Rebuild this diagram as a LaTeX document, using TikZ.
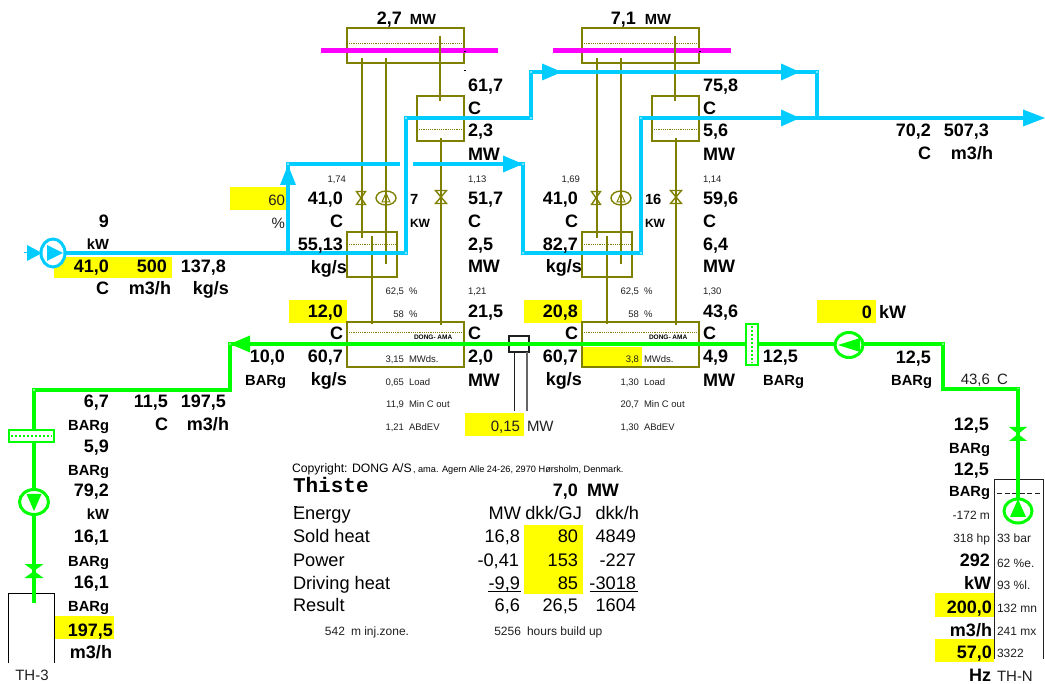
\documentclass[tikz,border=0pt]{standalone}
\usepackage{fontspec}
\setmainfont{Liberation Sans}
\newfontfamily\cour{Liberation Mono}
\usetikzlibrary{shapes.geometric}
\definecolor{cblue}{HTML}{00CCFF}
\definecolor{cgreen}{HTML}{00FF00}
\definecolor{colv}{HTML}{808000}
\definecolor{cyel}{HTML}{FFFF00}
\definecolor{cmag}{HTML}{FF00FF}
\definecolor{cgray}{HTML}{202020}
\newcounter{tx}
\tikzset{
  txt/.style={inner sep=0pt,outer sep=0pt},
  big/.style={txt,font=\fontsize{18}{18}\selectfont\bfseries},
  sb/.style={txt,font=\fontsize{14.7}{14.7}\selectfont\bfseries},
  kwb/.style={txt,font=\fontsize{12}{12}\selectfont\bfseries},
  tiny/.style={txt,text=cgray,font=\fontsize{9.5}{9.5}\selectfont},
  mid/.style={txt,text=cgray,font=\fontsize{12}{12}\selectfont},
  reg/.style={txt,text=cgray,font=\fontsize{15}{15}\selectfont},
  tab/.style={txt,font=\fontsize{18.2}{18.2}\selectfont},
  cop/.style={txt,font=\fontsize{12.2}{12.2}\selectfont},
  cops/.style={txt,font=\fontsize{9.2}{9.2}\selectfont},
  dong/.style={txt,font=\fontsize{6.5}{6.5}\selectfont\bfseries},
  boxo/.style={draw=colv,line width=1.8pt,inner sep=0pt,outer sep=0pt},
  boxn/.style={inner sep=0pt,outer sep=0pt},
  yel/.style={fill=cyel,inner sep=0pt,outer sep=0pt},
  dotl/.style={colv,line width=0.9pt,dash pattern=on 1.2pt off 1pt},
  olv/.style={colv,line width=1.6pt},
  bpipe/.style={cblue,line width=4.8pt,line join=miter},
  gpipe/.style={cgreen,line width=4.6pt,line join=miter},
  pump/.style={ellipse,draw=#1,line width=3pt,fill=white,inner sep=0pt,outer sep=0pt},
  pumpo/.style={ellipse,draw=colv,line width=1.4pt,inner sep=0pt,outer sep=0pt,minimum width=20pt,minimum height=14pt},
  corner/.style={fill=white,circle,inner sep=0pt,minimum size=1.8pt},
}
\newcommand{\RT}[4]{\stepcounter{tx}\node[#1,anchor=base east] (t\thetx) at (#2,{#3+1}) {#4};}
\newcommand{\LT}[4]{\stepcounter{tx}\node[#1,anchor=base west] (t\thetx) at (#2,{#3+1}) {#4};}
\newcommand{\CT}[4]{\stepcounter{tx}\node[#1,anchor=base] (t\thetx) at (#2,{#3+1}) {#4};}
% name, style, x1,y1,x2,y2
\newcommand{\BX}[6]{%
  \pgfmathsetmacro{\bw}{#5-#3}\pgfmathsetmacro{\bh}{#6-#4}%
  \pgfmathsetmacro{\bx}{(#3+#5)/2}\pgfmathsetmacro{\by}{(#4+#6)/2}%
  \node[#2,minimum width=\bw pt,minimum height=\bh pt] (#1) at (\bx,\by) {};}
% bowties: x,y,hw,hh
\newcommand{\VO}[4]{\draw[colv,line width=1.4pt] ({#1-#3},{#2-#4}) -- ({#1+#3},{#2-#4}) -- ({#1-#3},{#2+#4}) -- ({#1+#3},{#2+#4}) -- cycle;}
\newcommand{\VG}[4]{\fill[cgreen] ({#1-#3},{#2-#4}) -- ({#1+#3},{#2-#4}) -- ({#1-#3},{#2+#4}) -- ({#1+#3},{#2+#4}) -- cycle;}
\begin{document}
\begin{tikzpicture}[x=1pt,y=-1pt]
\useasboundingbox (0,0) rectangle (1045,684);
\fill[white] (0,0) rectangle (1045,684);

% ---------- yellow cells
\BX{y1}{yel}{54}{257}{172}{278}
\BX{y2}{yel}{230}{187}{286}{210}
\BX{y3}{yel}{289}{300}{347}{323}
\BX{y4}{yel}{524}{300}{582}{323}
\BX{y5}{yel}{817}{300}{876}{323}
\BX{y6}{yel}{54}{616}{114}{639}
\BX{y7}{yel}{465}{413}{524}{436}
\BX{y8}{yel}{582}{347}{642}{366}
\BX{y9}{yel}{524}{525}{583}{594}
\BX{y10}{yel}{935}{593}{994}{617}
\BX{y11}{yel}{935}{639}{994}{662}

% ---------- olive plant boxes, left unit
\BX{genA}{boxo}{347}{28}{464}{63}
\BX{conA}{boxo}{417}{96}{464}{141}
\BX{evaA}{boxo}{347}{232}{397}{277}
\BX{hexA}{boxo}{347}{322}{464}{367}
% right unit
\BX{genB}{boxo}{582}{28}{699}{63}
\BX{conB}{boxo}{652}{96}{699}{141}
\BX{evaB}{boxo}{582}{232}{632}{277}
\BX{hexB}{boxo}{582}{322}{699}{367}
% dotted lines in boxes
\draw[dotl] (349,43) -- (463,43);
\draw[dotl] (584,43) -- (698,43);
\draw[dotl] (419,129) -- (462,129);
\draw[dotl] (654,129) -- (697,129);
\draw[dotl] (349,244) -- (396,244);
\draw[dotl] (584,244) -- (631,244);
\draw[dotl] (349,332) -- (463,332);
\draw[dotl] (584,332) -- (698,332);
% magenta bars
\coordinate (magA1) at (321,51); \coordinate (magA2) at (498,51);
\coordinate (magB1) at (553,51); \coordinate (magB2) at (731,51);
\draw[cmag,line width=5pt] (magA1) -- (magA2);
\draw[cmag,line width=5pt] (magB1) -- (magB2);
\fill[black] (463.5,51) rectangle (465.5,52.5);
\fill[black] (698.5,51) rectangle (700.5,52.5);
\fill[black] (464,70.5) rectangle (466,71.5);
\fill[black] (698,70.5) rectangle (700,71.5);
% olive connecting lines
\coordinate (a1) at (362,58); \coordinate (a2) at (362,238);
\coordinate (a3) at (386,58); \coordinate (a4) at (386,264);
\coordinate (a5) at (440,36); \coordinate (a6) at (440,101);
\coordinate (a7) at (441,138); \coordinate (a8) at (441,325);
\coordinate (a9) at (372,236); \coordinate (a10) at (372,324);
\coordinate (b1) at (597,58); \coordinate (b2) at (597,238);
\coordinate (b3) at (621,58); \coordinate (b4) at (621,264);
\coordinate (b5) at (675,36); \coordinate (b6) at (675,101);
\coordinate (b7) at (676,138); \coordinate (b8) at (676,325);
\coordinate (b9) at (607,236); \coordinate (b10) at (607,324);
\foreach \p/\q in {a1/a2,a3/a4,a5/a6,a7/a8,a9/a10,b1/b2,b3/b4,b5/b6,b7/b8,b9/b10}
  \draw[olv] (\p) -- (\q);
% olive valves and pumps
\VO{361}{198}{4.5}{6.5}
\VO{441}{197}{5.5}{6.5}
\VO{596}{198}{4.5}{6.5}
\VO{676}{197}{5.5}{6.5}
\node[pumpo] (pa) at (386,198) {};
\node[pumpo] (pb) at (621,198) {};
\draw[colv,line width=1pt] (386,193) -- (390,202) -- (382,202) -- cycle;
\draw[colv,line width=1pt] (621,193) -- (625,202) -- (617,202) -- cycle;

% ---------- black tanks / turbine
\draw[black,line width=0.8pt] (8,663) -- (8,593) -- (54,593) -- (54,663);
\draw[cgray,line width=1pt] (994,659) -- (994,480) -- (1043,480) -- (1043,659);
\draw[cgray,line width=0.8pt,dash pattern=on 5pt off 2.6pt] (997,493) -- (1040,493);
\BX{gt}{boxn,draw=cgray,line width=1.1pt,fill=white}{509}{336}{529}{352}
\coordinate (gt1) at (514,352); \coordinate (gt2) at (514,411);
\coordinate (gt3) at (527,352); \coordinate (gt4) at (527,411);
\draw[cgray,line width=1pt] (gt1) -- (gt2);
\draw[gray!80!black,line width=1.1pt] (gt3) -- (gt4);

% ---------- blue pipes
\coordinate (p0) at (24,253);
\coordinate (p1) at (406,253);
\coordinate (p2) at (288,253);
\coordinate (p3) at (288,164);
\coordinate (p4) at (400,164);
\coordinate (p5) at (413,164);
\coordinate (p6) at (523,164);
\coordinate (p7) at (523,253);
\coordinate (p8) at (641,253);
\coordinate (p9) at (641,118);
\coordinate (p10) at (1030,118);
\coordinate (p11) at (406,118);
\coordinate (p12) at (531,118);
\coordinate (p13) at (531,72);
\coordinate (p14) at (817,72);
\coordinate (p15) at (817,118);
\node[pump=cblue,minimum width=24pt,minimum height=28pt] (bp) at (53,253) {};
\draw[cblue,line width=1pt] (p0) -- (bp);
\draw[bpipe] (bp) -- (p1) -- (p11) -- (p12) -- (p13) -- (p14) -- (p15);
\draw[bpipe] (p2) -- (p3) -- (p4);
\draw[bpipe] (p5) -- (p6) -- (p7) -- (p8) -- (p9) -- (p10);
\fill[cblue] (42,253) -- (27,245) -- (27,261) -- cycle;
\fill[cblue] (63,253) -- (47,245) -- (47,261) -- cycle;
\fill[cblue] (288,165) -- (280,185) -- (296,185) -- cycle;
\fill[cblue] (523,164) -- (503,155.5) -- (503,172.5) -- cycle;
\fill[cblue] (562,72) -- (542,63.5) -- (542,80.5) -- cycle;
\fill[cblue] (800,72) -- (781,63.5) -- (781,80.5) -- cycle;
\fill[cblue] (800,118) -- (781,109.5) -- (781,126.5) -- cycle;
\fill[cblue] (1045,118) -- (1023,109.5) -- (1023,126.5) -- cycle;
\foreach \p in {p1,p3,p6,p7,p8,p9,p11,p12,p13,p14} \node[corner] (c\p) at (\p) {};

% ---------- green pipes
\coordinate (g0) at (34,603);
\coordinate (g1) at (34,390);
\coordinate (g2) at (230,390);
\coordinate (g3) at (230,344);
\coordinate (g4) at (943,344);
\coordinate (g5) at (943,389);
\coordinate (g6) at (1018,389);
\coordinate (g7) at (1018,511);
\draw[gpipe] (g0) -- (g1) -- (g2) -- (g3) -- (g4) -- (g5) -- (g6) -- (g7);
\fill[cgreen] (230,344) -- (250,335.5) -- (250,352.5) -- cycle;
\foreach \p in {g1,g3,g4,g6} \node[corner] (c\p) at (\p) {};
\VG{34}{571}{9.5}{7}
\VG{1018}{434}{9}{7}
% green filter, left
\BX{flA}{boxn,draw=cgreen,line width=2.2pt,fill=white}{9}{430}{54}{442}
\draw[cgreen,line width=2.4pt,dash pattern=on 2pt off 2pt] (11,436) -- (52,436);
% green filter, right
\BX{flB}{boxn,draw=cgreen,line width=2.2pt,fill=white}{746}{324}{758}{365}
\draw[cgreen,line width=2.4pt,dash pattern=on 2pt off 2pt] (752,326) -- (752,363);
% green pumps
\node[pump=cgreen,minimum width=29pt,minimum height=25pt] (gpA) at (34,502) {};
\fill[cgreen] (34,511) -- (26.5,494) -- (41.5,494) -- cycle;
\node[pump=cgreen,minimum width=28pt,minimum height=25pt] (gpB) at (849,345) {};
\fill[cgreen] (838,345) -- (860,338) -- (860,352) -- cycle;
\node[pump=cgreen,minimum width=28pt,minimum height=24pt] (gpC) at (1018,511) {};
\fill[cgreen] (1018,499) -- (1026,517) -- (1010,517) -- cycle;
\draw[gpipe] (g6) -- (gpC.north);

% ---------- texts: pipes, left
\RT{big}{109}{227}{9}
\RT{sb}{109}{249}{kW}
\RT{big}{109}{272}{41,0}
\RT{big}{167}{272}{500}
\RT{big}{226}{272}{137,8}
\RT{big}{109}{294}{C}
\RT{big}{171}{294}{m3/h}
\RT{big}{229}{294}{kg/s}
\RT{reg}{285}{205}{60}
\RT{reg}{285}{228}{\%}

% left unit left column
\RT{tiny}{346}{182}{1,74}
\RT{big}{343}{204}{41,0}
\RT{big}{343}{227}{C}
\RT{big}{343}{250}{55,13}
\RT{big}{347}{273}{kg/s}
\RT{big}{343}{317}{12,0}
\RT{big}{343}{339}{C}
\RT{big}{343}{362}{60,7}
\RT{big}{347}{385}{kg/s}
\RT{big}{285}{362}{10,0}
\RT{sb}{286}{385}{BARg}

% left bottom columns
\RT{big}{109}{407}{6,7}
\RT{sb}{109}{430}{BARg}
\RT{big}{109}{452}{5,9}
\RT{sb}{109}{475}{BARg}
\RT{big}{109}{496}{79,2}
\RT{sb}{109}{519}{kW}
\RT{big}{109}{542}{16,1}
\RT{sb}{109}{565}{BARg}
\RT{big}{109}{587}{16,1}
\RT{sb}{109}{610}{BARg}
\RT{big}{113}{635}{197,5}
\RT{big}{112}{657}{m3/h}
\CT{reg}{32}{679}{TH-3}
\RT{big}{168}{407}{11,5}
\RT{big}{168}{430}{C}
\RT{big}{226}{407}{197,5}
\RT{big}{229}{430}{m3/h}

% tops
\RT{big}{402}{24}{2,7}
\RT{sb}{436}{24}{MW}
\RT{big}{636}{24}{7,1}
\RT{sb}{671}{24}{MW}

% right of left unit
\LT{big}{468}{91}{61,7}
\LT{big}{468}{114}{C}
\LT{big}{468}{136}{2,3}
\LT{big}{468}{160}{MW}
\LT{tiny}{468}{182}{1,13}
\LT{big}{468}{204}{51,7}
\LT{big}{468}{227}{C}
\LT{big}{468}{250}{2,5}
\LT{big}{468}{272}{MW}
\LT{tiny}{468}{294}{1,21}
\LT{big}{468}{317}{21,5}
\LT{big}{468}{339}{C}
\LT{big}{468}{362}{2,0}
\LT{big}{468}{386}{MW}
\LT{sb}{410}{204}{7}
\LT{kwb}{410}{227}{KW}

% center small, left unit
\RT{tiny}{404}{294}{62,5}
\LT{tiny}{409}{294}{\%}
\RT{tiny}{404}{317}{58}
\LT{tiny}{409}{317}{\%}
\RT{tiny}{404}{362}{3,15}
\LT{tiny}{409}{362}{MWds.}
\RT{tiny}{404}{385}{0,65}
\LT{tiny}{409}{385}{Load}
\RT{tiny}{404}{407}{11,9}
\LT{tiny}{409}{407}{Min C out}
\RT{tiny}{404}{430}{1,21}
\LT{tiny}{409}{430}{ABdEV}
\LT{dong}{414}{339}{DONG- AMA}

% right unit left column
\RT{tiny}{580}{182}{1,69}
\RT{big}{578}{204}{41,0}
\RT{big}{578}{227}{C}
\RT{big}{578}{250}{82,7}
\RT{big}{582}{272}{kg/s}
\RT{big}{578}{317}{20,8}
\RT{big}{578}{339}{C}
\RT{big}{578}{362}{60,7}
\RT{big}{582}{385}{kg/s}
\LT{sb}{645}{204}{16}
\LT{kwb}{645}{227}{KW}

% right unit center small
\RT{tiny}{639}{294}{62,5}
\LT{tiny}{644}{294}{\%}
\RT{tiny}{639}{317}{58}
\LT{tiny}{644}{317}{\%}
\RT{tiny}{639}{362}{3,8}
\LT{tiny}{644}{362}{MWds.}
\RT{tiny}{639}{385}{1,30}
\LT{tiny}{644}{385}{Load}
\RT{tiny}{639}{407}{20,7}
\LT{tiny}{644}{407}{Min C out}
\RT{tiny}{639}{430}{1,30}
\LT{tiny}{644}{430}{ABdEV}
\LT{dong}{649}{339}{DONG- AMA}

% right of right unit
\LT{big}{703}{91}{75,8}
\LT{big}{703}{114}{C}
\LT{big}{703}{136}{5,6}
\LT{big}{703}{160}{MW}
\LT{tiny}{703}{182}{1,14}
\LT{big}{703}{204}{59,6}
\LT{big}{703}{227}{C}
\LT{big}{703}{250}{6,4}
\LT{big}{703}{272}{MW}
\LT{tiny}{703}{294}{1,30}
\LT{big}{703}{317}{43,6}
\LT{big}{703}{339}{C}
\LT{big}{703}{362}{4,9}
\LT{big}{703}{386}{MW}

% turbine yellow
\RT{reg}{520}{431}{0,15}
\LT{reg}{527}{431}{MW}

% right side
\RT{big}{798}{362}{12,5}
\RT{sb}{804}{385}{BARg}
\RT{big}{872}{318}{0}
\LT{big}{879}{318}{kW}
\RT{big}{931}{363}{12,5}
\RT{sb}{932}{385}{BARg}
\RT{reg}{990}{384}{43,6}
\LT{reg}{997}{384}{C}
\RT{big}{931}{136}{70,2}
\RT{big}{989}{136}{507,3}
\RT{big}{931}{159}{C}
\RT{big}{993}{159}{m3/h}

\RT{big}{989}{430}{12,5}
\RT{sb}{990}{453}{BARg}
\RT{big}{989}{475}{12,5}
\RT{sb}{990}{496}{BARg}
\RT{mid}{990}{519}{-172 m}
\RT{mid}{990}{542}{318 hp}
\RT{big}{990}{565}{292}
\RT{big}{991}{589}{kW}
\RT{big}{992}{612}{200,0}
\RT{big}{992}{635}{m3/h}
\RT{big}{992}{657}{57,0}
\RT{big}{991}{680}{Hz}
\LT{reg}{997}{680}{TH-N}
\LT{mid}{997}{542}{33 bar}
\LT{mid}{997}{566}{62 \%e.}
\LT{mid}{997}{588}{93 \%l.}
\LT{mid}{997}{611}{132 mn}
\LT{mid}{997}{634}{241 mx}
\LT{mid}{997}{656}{3322}

% ---------- table
\LT{cop}{292}{472}{Copyright: DONG A/S}
\LT{cops}{413}{472}{, ama.}
\LT{cops}{442}{472}{Agern Alle 24-26, 2970 Hørsholm, Denmark.}
\LT{txt,font=\fontsize{21}{21}\selectfont\cour\bfseries}{293}{492}{Thiste}
\RT{big}{578}{496}{7,0}
\LT{big}{587}{496}{MW}
\LT{tab}{293}{519}{Energy}
\LT{tab}{293}{542}{Sold heat}
\LT{tab}{293}{565}{Power}
\LT{tab}{293}{588}{Driving heat}
\LT{tab}{293}{610}{Result}
\fill[black] (294,506) rectangle (297,507.5);
\RT{tab}{521}{519}{MW}
\RT{tab}{582}{519}{dkk/GJ}
\RT{tab}{639}{519}{dkk/h}
\RT{tab}{520}{542}{16,8}
\RT{tab}{578}{542}{80}
\RT{tab}{636}{542}{4849}
\RT{tab}{519}{565}{-0,41}
\RT{tab}{578}{565}{153}
\RT{tab}{636}{565}{-227}
\RT{tab}{520}{588}{-9,9}
\RT{tab}{578}{588}{85}
\RT{tab}{636}{588}{-3018}
\RT{tab}{520}{610}{6,6}
\RT{tab}{578}{610}{26,5}
\RT{tab}{636}{610}{1604}
\draw[black,line width=1pt] (488,591.5) -- (521,591.5);
\draw[black,line width=1pt] (590,591.5) -- (638,591.5);
\RT{mid}{345}{634}{542}
\LT{mid}{351}{634}{m inj.zone.}
\RT{mid}{521}{634}{5256}
\LT{mid}{527}{634}{hours build up}
\end{tikzpicture}
\end{document}
